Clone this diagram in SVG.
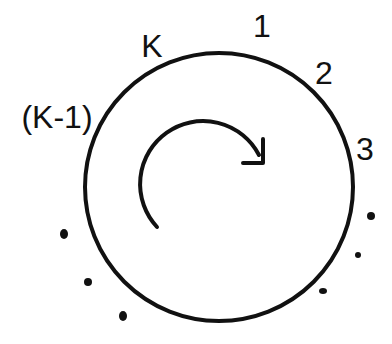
<svg xmlns="http://www.w3.org/2000/svg" width="392" height="344" viewBox="0 0 392 344">
<style>
.ln{fill:none;stroke:#111;stroke-width:4;stroke-linecap:round;stroke-linejoin:round}
.lb{font-family:"Liberation Sans",Arial,sans-serif;font-size:32px;fill:#111}
.dot{fill:#111}
</style>
<rect width="392" height="344" fill="#fff"/>
<g id="ring">
<circle class="ln" cx="219" cy="187" r="134"/>
</g>
<g id="connectors">
<path class="ln" d="M157 227 A63 63 0 1 1 259 155"/>
<path class="ln" stroke-width="3.5" d="M263 139 L263 163 L243 163"/>
</g>
<g id="label-1"><text class="lb" x="262" y="37" text-anchor="middle">1</text></g>
<g id="label-2"><text class="lb" x="324" y="84" text-anchor="middle">2</text></g>
<g id="label-3"><text class="lb" x="365" y="160" text-anchor="middle">3</text></g>
<g id="label-k"><text class="lb" x="152" y="57" text-anchor="middle">K</text></g>
<g id="label-k1"><text class="lb" x="57" y="128" text-anchor="middle">(K-1)</text></g>
<g id="dots">
<ellipse class="dot" cx="64" cy="234" rx="4" ry="5"/>
<ellipse class="dot" cx="88" cy="282" rx="4" ry="4"/>
<ellipse class="dot" cx="123" cy="316" rx="4" ry="5"/>
<ellipse class="dot" cx="371" cy="216" rx="4" ry="4"/>
<ellipse class="dot" cx="358" cy="255" rx="3" ry="3"/>
<ellipse class="dot" cx="323" cy="291" rx="4" ry="3"/>
</g>
</svg>
